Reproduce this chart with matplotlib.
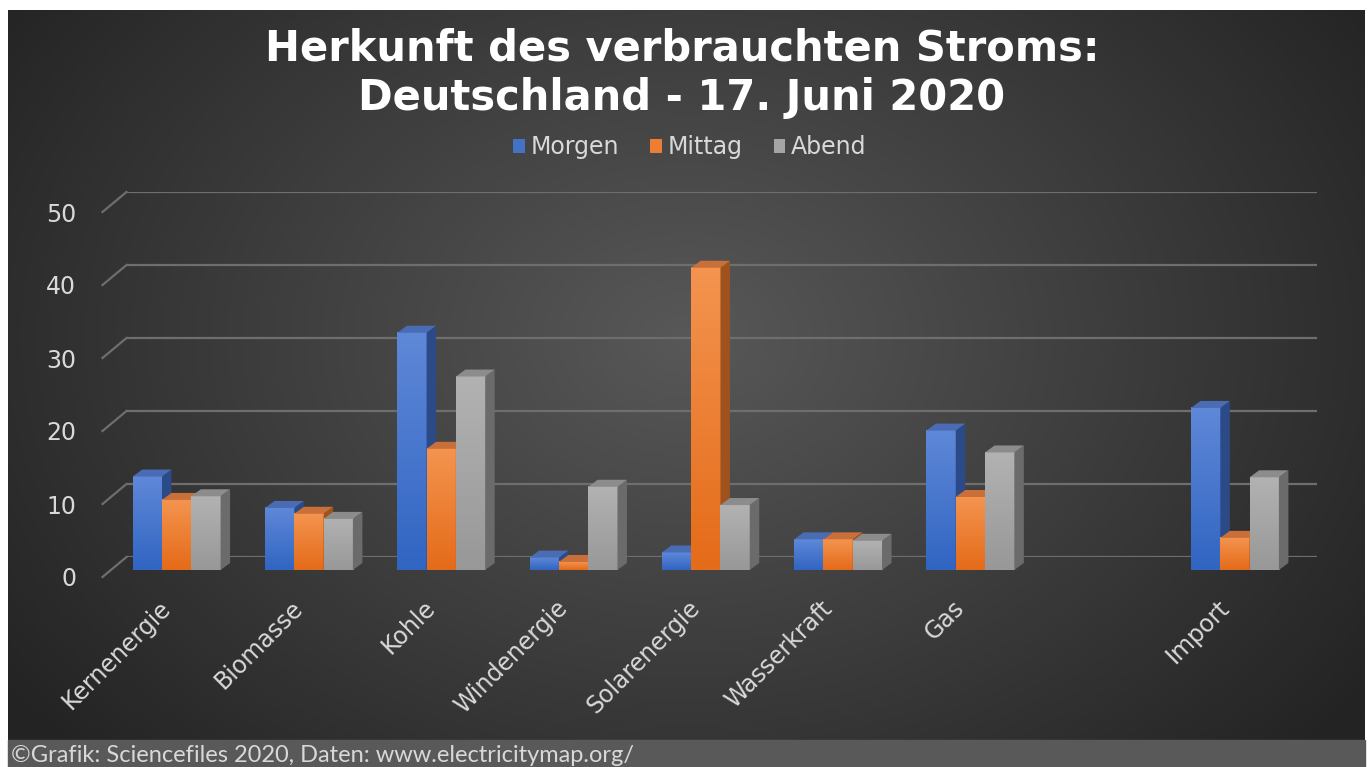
"""Herkunft des verbrauchten Stroms - Deutschland, 17. Juni 2020 (3D-Saeulen-Look)."""
import numpy as np
import matplotlib
matplotlib.use("Agg")
import matplotlib.pyplot as plt
from matplotlib.colors import LinearSegmentedColormap
from matplotlib.patches import Polygon, Rectangle, Patch
from matplotlib.transforms import ScaledTranslation

categories = ["Kernenergie", "Biomasse", "Kohle", "Windenergie", "Solarenergie",
              "Wasserkraft", "Gas", "", "Import"]
morgen = [12.8, 8.5, 32.5, 1.7, 2.4, 4.2, 19.1, np.nan, 22.2]
mittag = [9.6, 7.7, 16.6, 1.1, 41.4, 4.2, 10.0, np.nan, 4.4]
abend = [10.1, 7.0, 26.5, 11.4, 8.9, 4.0, 16.1, np.nan, 12.7]
series_names = ["Morgen", "Mittag", "Abend"]
y_ticks = [0, 10, 20, 30, 40, 50]

# (bottom, top, side, lid, legend)
colors = [
    ("#3165c2", "#5f88d8", "#2c4a88", "#4a6cb4", "#4472c4"),
    ("#e46b19", "#f4944f", "#a0521c", "#c9703a", "#ed7d31"),
    ("#989898", "#b2b2b2", "#6b6b6b", "#8c8c8c", "#a5a5a5"),
]

W_PX, H_PX = 1370, 767
fig = plt.figure(figsize=(W_PX / 100, H_PX / 100), dpi=100)
fig.patch.set_facecolor("white")

# background: radial gradient
bg = fig.add_axes([8 / W_PX, 27 / H_PX, 1357 / W_PX, 730 / H_PX], zorder=-10)
gx, gy = np.meshgrid(np.linspace(0, 1, 400), np.linspace(0, 1, 220))
r = np.sqrt(((gx - 0.5) / 0.62) ** 2 + ((gy - 0.45) / 0.85) ** 2)
r = np.clip(r, 0, 1)
shade = (0x58 + (0x23 - 0x58) * r) / 255.0
bg.imshow(np.dstack([shade, shade, shade]), aspect="auto", interpolation="bilinear",
          extent=(0, 1, 0, 1), origin="upper")
bg.axis("off")

# caption bar
fig.patches.append(Rectangle((8 / W_PX, 0), 1357 / W_PX, 27 / H_PX,
                             transform=fig.transFigure, color="#595959", zorder=-5))
fig.text(11 / W_PX, 12 / H_PX, "©Grafik: Sciencefiles 2020, Daten: www.electricitymap.org/",
         fontfamily="Lato", fontsize=17, color="#d8d8d8", va="center", ha="left")

# title + legend
fig.text(682 / W_PX, 1 - 73 / H_PX, "Herkunft des verbrauchten Stroms:\nDeutschland - 17. Juni 2020",
         fontsize=30, fontweight="bold", color="white", ha="center", va="center",
         linespacing=1.24)

# geometry: bar plane, back wall (+16,+13 px), front plane (-8,-7 px)
left, bottom, width, height = 110.5, 197, 1190.6, 365
xlim = (-0.5, len(categories) - 0.5)
ylim = (0, 50)
DX = (xlim[1] - xlim[0]) / width
DY = (ylim[1] - ylim[0]) / height


def mk_axes(dx, dy, z):
    a = fig.add_axes([(left + dx) / W_PX, (bottom + dy) / H_PX, width / W_PX, height / H_PX], zorder=z)
    a.set_xlim(*xlim)
    a.set_ylim(*ylim)
    a.patch.set_visible(False)
    for s in a.spines.values():
        s.set_visible(False)
    a.tick_params(length=0)
    return a


bax = mk_axes(16, 13, 1)
bax.set_yticks(y_ticks)
bax.set_yticklabels([])
bax.set_xticks([])
bax.yaxis.grid(True, color="#6e6e6e", linewidth=1.6)

ax = mk_axes(0, 0, 2)
ax.set_xticks([])
ax.set_yticks([])

fax = mk_axes(-8, -7, 3)
fax.set_yticks(y_ticks)
fax.set_yticklabels([str(t) for t in y_ticks], fontsize=17, color="#d9d9d9")
fax.tick_params(axis="y", pad=19)
fax.set_xticks(range(len(categories)))
fax.set_xticklabels(categories, fontsize=17, color="#d9d9d9", rotation=45,
                    ha="right", rotation_mode="anchor")
fax.tick_params(axis="x", pad=15)
shift = ScaledTranslation(-10 / 100, 2 / 100, fig.dpi_scale_trans)
for lab in fax.get_xticklabels():
    lab.set_transform(lab.get_transform() + shift)

# diagonal stubs at left of the floor/wall
for t in y_ticks:
    ax.plot([xlim[0] - 8 * DX, xlim[0] + 16 * DX], [t - 7 * DY, t + 13 * DY],
            color="#6e6e6e", linewidth=1.6, clip_on=False, zorder=1)

# bars
bw = 0.2215
ddx, ddy = 9.5 * DX, 7 * DY
grad = np.linspace(0, 1, 100).reshape(-1, 1)
offsets = [-bw, 0, bw]
for si, vals in enumerate([morgen, mittag, abend]):
    c_bot, c_top, c_side, c_lid, _ = colors[si]
    cmap = LinearSegmentedColormap.from_list(f"g{si}", [c_bot, c_top])
    z = 3 + si
    for i, v in enumerate(vals):
        if np.isnan(v):
            continue
        x0 = i + offsets[si] - bw / 2
        x1 = x0 + bw
        ax.imshow(grad, extent=(x0, x1, 0, v), cmap=cmap, aspect="auto",
                  origin="lower", zorder=z, interpolation="bilinear")
        ax.add_patch(Polygon([(x1, 0), (x1 + ddx, ddy), (x1 + ddx, v + ddy), (x1, v)],
                             closed=True, facecolor=c_side, edgecolor="none", zorder=z))
        ax.add_patch(Polygon([(x0, v), (x1, v), (x1 + ddx, v + ddy), (x0 + ddx, v + ddy)],
                             closed=True, facecolor=c_lid, edgecolor="none", zorder=z))
ax.set_xlim(*xlim)
ax.set_ylim(*ylim)

handles = [Patch(facecolor=c[4], edgecolor="none") for c in colors]
fig.legend(handles, series_names, loc="center", bbox_to_anchor=(690 / W_PX, 1 - 147 / H_PX),
           ncol=3, frameon=False, fontsize=17, labelcolor="#d9d9d9",
           handlelength=0.5, handleheight=0.55, handletextpad=0.25, columnspacing=1.3)

fig.savefig("out.png", dpi=100, facecolor=fig.get_facecolor())
plt.close(fig)
